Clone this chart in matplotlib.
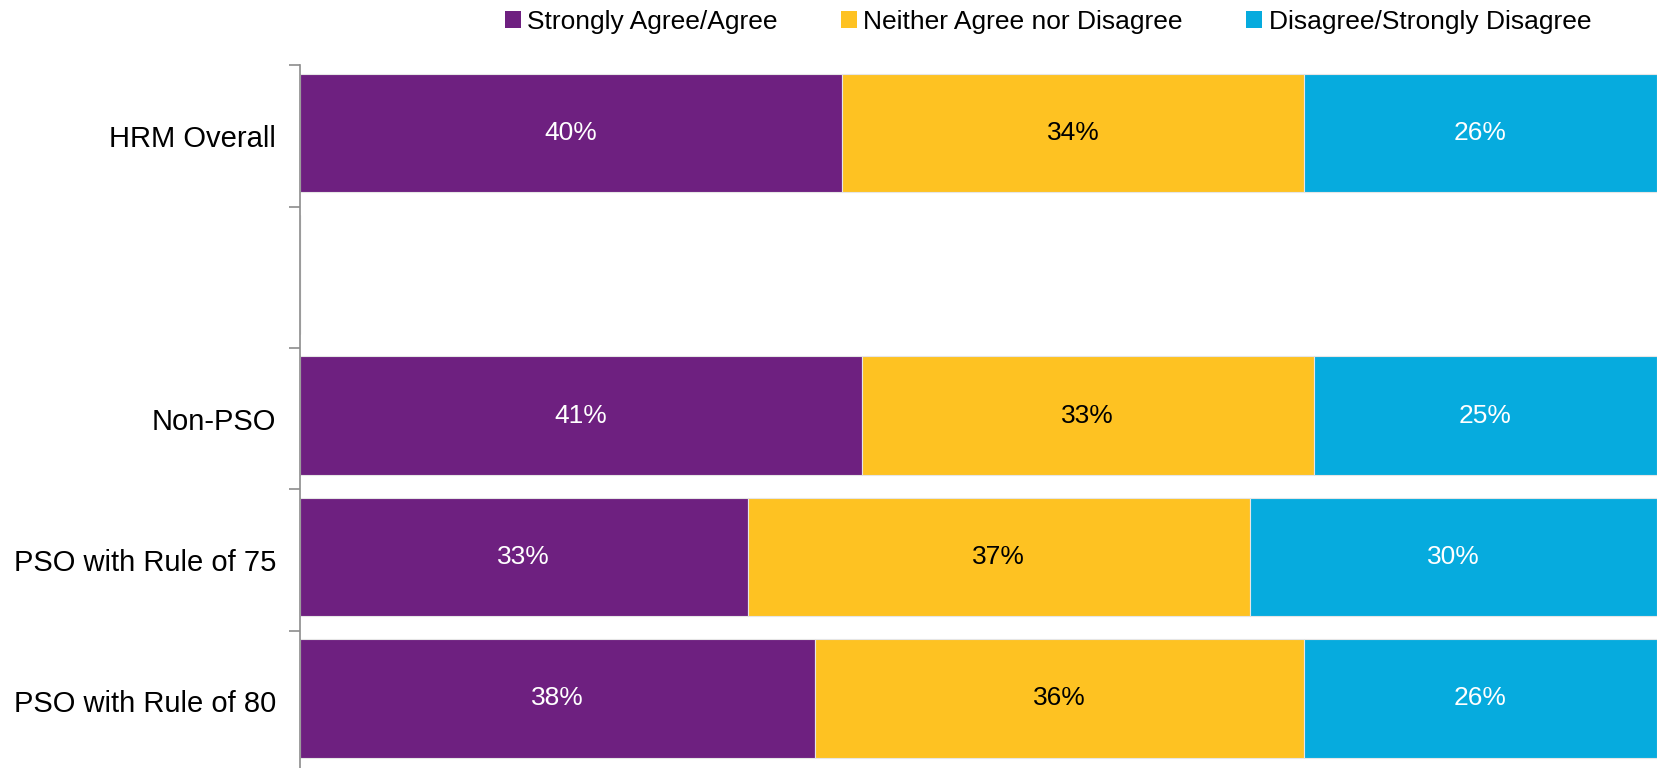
import numpy as np
import matplotlib
matplotlib.use("Agg")
import matplotlib.pyplot as plt
from matplotlib.patches import Patch

plt.rcParams['font.family'] = ['Liberation Sans', 'DejaVu Sans']

# survey groups, top to bottom (blank row is an empty slot)
groups = ['HRM Overall', '', 'Non-PSO', 'PSO with Rule of 75', 'PSO with Rule of 80']
series = ['Strongly Agree/Agree', 'Neither Agree nor Disagree', 'Disagree/Strongly Disagree']
agree = [40, np.nan, 41, 33, 38]
neutral = [34, np.nan, 33, 37, 36]
disagree = [26, np.nan, 25, 30, 26]

colors = ['#6E2080', '#FEC222', '#06ABDE']
text_colors = ['white', 'black', 'white']

fig = plt.figure(figsize=(16.65, 7.68), dpi=100)
ax = fig.add_axes([0.180, -0.005, 0.815, 0.920])

data = np.array([agree, neutral, disagree], dtype=float)
totals = np.nansum(data, axis=0)
y = np.arange(len(groups))

left = np.zeros(len(groups))
for vals, col, tcol in zip(data, colors, text_colors):
    shares = np.where(totals > 0, vals / np.where(totals > 0, totals, 1), 0) * 100
    shares = np.nan_to_num(shares)
    ax.barh(y - 0.02, shares, left=left, height=0.84, color=col,
            edgecolor='#E6E6E6', linewidth=0.8)
    for yi, (v, s, l) in enumerate(zip(vals, shares, left)):
        if np.isnan(v):
            continue
        ax.text(l + s / 2, yi - 0.02, f'{v:.0f}%', ha='center', va='center',
                color=tcol, fontsize=19)
    left += shares

ax.set_xlim(0, 100)
ax.set_ylim(len(groups) - 0.5, -0.5)
ax.set_yticks(y)
ax.set_yticklabels(groups, fontsize=21)
ax.set_yticks(np.arange(len(groups) + 1) - 0.5, minor=True)
ax.tick_params(axis='y', which='major', length=0, pad=17)
ax.tick_params(axis='y', which='minor', length=8, color='#8C8C8C', width=1.2)
ax.set_xticks([])
for side in ['top', 'right', 'bottom']:
    ax.spines[side].set_visible(False)
ax.spines['left'].set_color('#8C8C8C')
ax.spines['left'].set_linewidth(1.2)

handles = [Patch(facecolor=c, edgecolor='none') for c in colors]
fig.legend(handles, series, loc='center right', bbox_to_anchor=(0.962, 0.972),
           ncol=3, frameon=False, fontsize=19, handlelength=0.6, handleheight=0.6,
           handletextpad=0.25, columnspacing=2.4, borderaxespad=0)

fig.savefig('out.png', dpi=100)
